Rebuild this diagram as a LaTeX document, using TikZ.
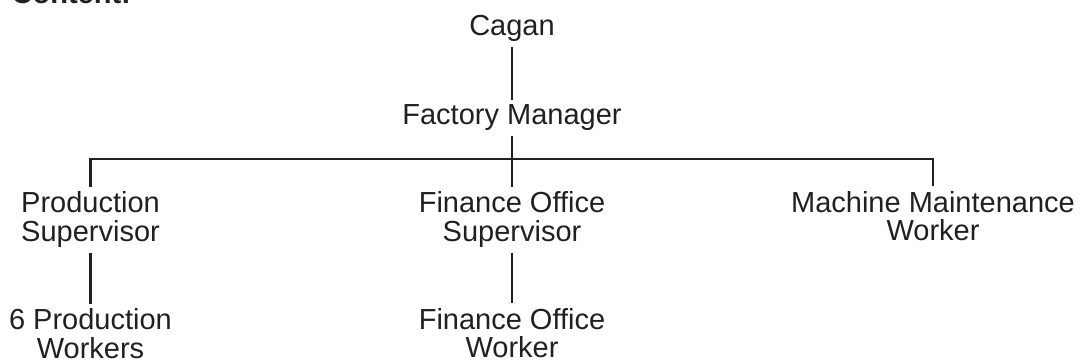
\documentclass[tikz,border=0pt]{standalone}
\usepackage{fontspec}
\setmainfont{Liberation Sans}
\definecolor{ink}{RGB}{35,31,32}
\begin{document}
\begin{tikzpicture}[x=1pt,y=1pt,
  lbl/.style={anchor=base,align=center,inner sep=5pt,text=ink,
    font=\fontsize{29}{28.5}\selectfont},
  link/.style={draw=ink,line width=2.8pt}]
\useasboundingbox (0,0) rectangle (1081,361);
\clip (0,0) rectangle (1081,361);
\node[anchor=base west,inner sep=0pt,text=ink,font=\fontsize{29}{28.5}\selectfont\bfseries] (content) at (11.5,357) {Content:};
\node[lbl] (cagan) at (512,325) {Cagan};
\node[lbl] (fm) at (512,236) {Factory Manager};
\node[lbl] (ps) at (90.5,119.5) {Production\\Supervisor};
\node[lbl] (fos) at (512,119.5) {Finance Office\\Supervisor};
\node[lbl] (mmw) at (933,120) {Machine Maintenance\\Worker};
\node[lbl] (pw) at (90.5,2.5) {6 Production\\Workers};
\node[lbl] (fow) at (512,3) {Finance Office\\Worker};
\coordinate (bar) at (512,202);
\draw[link] (cagan) -- (fm);
\draw[link] (fm) -- (fos);
\draw[link] (ps.north) |- (bar) -| (mmw.north);
\draw[link] (ps) -- (pw);
\draw[link] (fos) -- (fow);
\end{tikzpicture}
\end{document}
